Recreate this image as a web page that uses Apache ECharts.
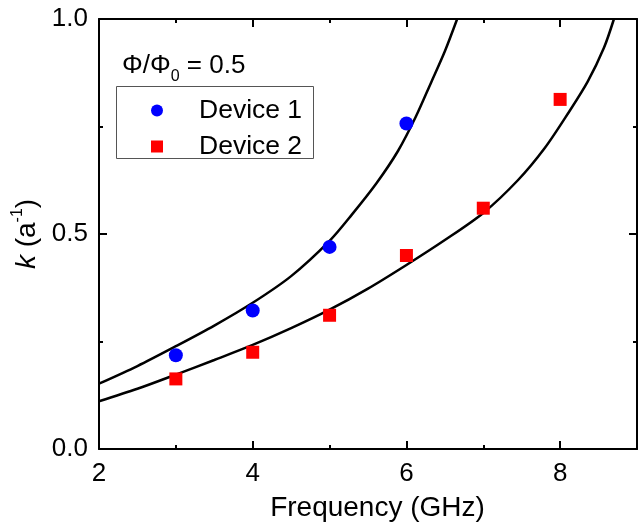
<!DOCTYPE html>
<html>
<head>
<meta charset="utf-8">
<script src="https://cdn.jsdelivr.net/npm/echarts@6/dist/echarts.min.js"></script>
<style>html,body{margin:0;padding:0;background:#fff}#c{width:641px;height:527px}</style>
</head>
<body>
<div id="c"></div>
<script>
// ---- data ----
const freq1 = [3, 4, 5, 6];
const device1 = [0.218, 0.322, 0.470, 0.757];
const freq2 = [3, 4, 5, 6, 7, 8];
const device2 = [0.163, 0.225, 0.311, 0.450, 0.560, 0.813];
const fit1X = [2, 2.5, 3, 3.5, 4, 4.5, 5, 5.29, 5.61, 5.89, 6.12, 6.32, 6.50, 6.66];
const fit1Y = [0.152, 0.193, 0.239, 0.287, 0.340, 0.402, 0.484, 0.545, 0.618, 0.693, 0.772, 0.852, 0.925, 1.0];
const fit2X = [2, 2.5, 3, 3.5, 4, 4.5, 5, 5.5, 6, 6.5, 7, 7.45, 7.8, 8.09, 8.36, 8.57, 8.70];
const fit2Y = [0.111, 0.140, 0.173, 0.207, 0.242, 0.281, 0.324, 0.373, 0.428, 0.486, 0.549, 0.625, 0.700, 0.777, 0.855, 0.933, 1.0];
const seriesNames = ['Device 1', 'Device 2'];
const xLabel = 'Frequency (GHz)';
const annotation = '{a|Φ/Φ}{b|0}{a| = 0.5}';

const FF = '"Liberation Sans", Arial, sans-serif';
const zip = (xs, ys) => xs.map((x, i) => [x, ys[i]]);

function xAx(pos, interval, len, opts) {
  return Object.assign({
    type: 'value', position: pos, min: 2, max: 9, interval: interval, gridIndex: 0,
    axisLine: { show: false, onZero: false },
    axisTick: { show: true, inside: true, length: len, lineStyle: { color: '#000', width: 2 } },
    axisLabel: { show: false },
    splitLine: { show: false }
  }, opts || {});
}
function yAx(pos, opts) {
  return Object.assign({
    type: 'value', position: pos, min: 0, max: 1, interval: 0.5,
    axisLine: { show: true, onZero: false, lineStyle: { color: '#000', width: 2 } },
    axisTick: { show: true, inside: true, length: 8, lineStyle: { color: '#000', width: 2 } },
    minorTick: { show: true, splitNumber: 2, length: 4, lineStyle: { color: '#000', width: 2 } },
    axisLabel: { show: false },
    splitLine: { show: false },
    minorSplitLine: { show: false }
  }, opts || {});
}

const chart = echarts.init(document.getElementById('c'), null, { renderer: 'canvas' });
chart.setOption({
  backgroundColor: '#fff',
  animation: false,
  textStyle: { fontFamily: FF, color: '#000' },
  grid: { left: 99, right: 4, top: 19, bottom: 78, containLabel: false },
  xAxis: [
    xAx('bottom', 2, 8, {
      axisLine: { show: true, onZero: false, lineStyle: { color: '#000', width: 2 } },
      axisLabel: { show: true, fontSize: 26, color: '#000', fontFamily: FF, margin: 12, showMaxLabel: false },
      name: xLabel, nameLocation: 'middle', nameGap: 45,
      nameTextStyle: { fontSize: 28, color: '#000', fontFamily: FF, padding: [0, 0, 0, 19] }
    }),
    xAx('bottom', 1, 4),
    xAx('top', 2, 8, { axisLine: { show: true, onZero: false, lineStyle: { color: '#000', width: 2 } } }),
    xAx('top', 1, 4)
  ],
  yAxis: [
    yAx('left', {
      axisLabel: { show: true, fontSize: 26, color: '#000', fontFamily: FF, margin: 11,
        formatter: v => v.toFixed(1) },
      name: '{i|k} {n|(a}{s|-1}{n|)}', nameLocation: 'middle', nameRotate: 90, nameGap: 55,
      nameTextStyle: {
        fontSize: 28, color: '#000', fontFamily: FF,
        rich: {
          i: { fontSize: 28, fontStyle: 'italic', fontFamily: FF, color: '#000' },
          n: { fontSize: 28, fontFamily: FF, color: '#000' },
          s: { fontSize: 16, fontFamily: FF, color: '#000', padding: [0, 0, 18, 0] }
        }
      }
    }),
    yAx('right')
  ],
  legend: {
    data: seriesNames,
    orient: 'vertical',
    left: 151, top: 97,
    padding: 0,
    itemWidth: 12, itemHeight: 12, itemGap: 9,
    textStyle: { fontSize: 26.5, lineHeight: 26, color: '#000', fontFamily: FF, padding: [0, 0, 0, 31] },
    selectedMode: false
  },
  graphic: [
    { type: 'rect', shape: { x: 116.5, y: 86.5, width: 197, height: 72 },
      style: { fill: 'none', stroke: '#555', lineWidth: 1 }, z: 100 },
    { type: 'text', left: 122, top: 53, z: 100,
      style: {
        text: annotation,
        rich: {
          a: { fontSize: 26, lineHeight: 30, fontFamily: FF, fill: '#000' },
          b: { fontSize: 16, fontFamily: FF, fill: '#000', padding: [22, 0, 0, 0] }
        }
      }
    }
  ],
  series: [
    { name: 'fit1', type: 'line', data: zip(fit1X, fit1Y), smooth: 0.3, showSymbol: false,
      lineStyle: { color: '#000', width: 2.5 }, z: 2, silent: true },
    { name: 'fit2', type: 'line', data: zip(fit2X, fit2Y), smooth: 0.3, showSymbol: false,
      lineStyle: { color: '#000', width: 2.5 }, z: 2, silent: true },
    { name: seriesNames[0], type: 'scatter', data: zip(freq1, device1), symbol: 'circle', symbolSize: 14,
      itemStyle: { color: '#0000ff', opacity: 1 }, z: 3 },
    { name: seriesNames[1], type: 'scatter', data: zip(freq2, device2), symbol: 'rect', symbolSize: 13,
      itemStyle: { color: '#ff0000', opacity: 1 }, z: 3 }
  ]
});
</script>
</body>
</html>
